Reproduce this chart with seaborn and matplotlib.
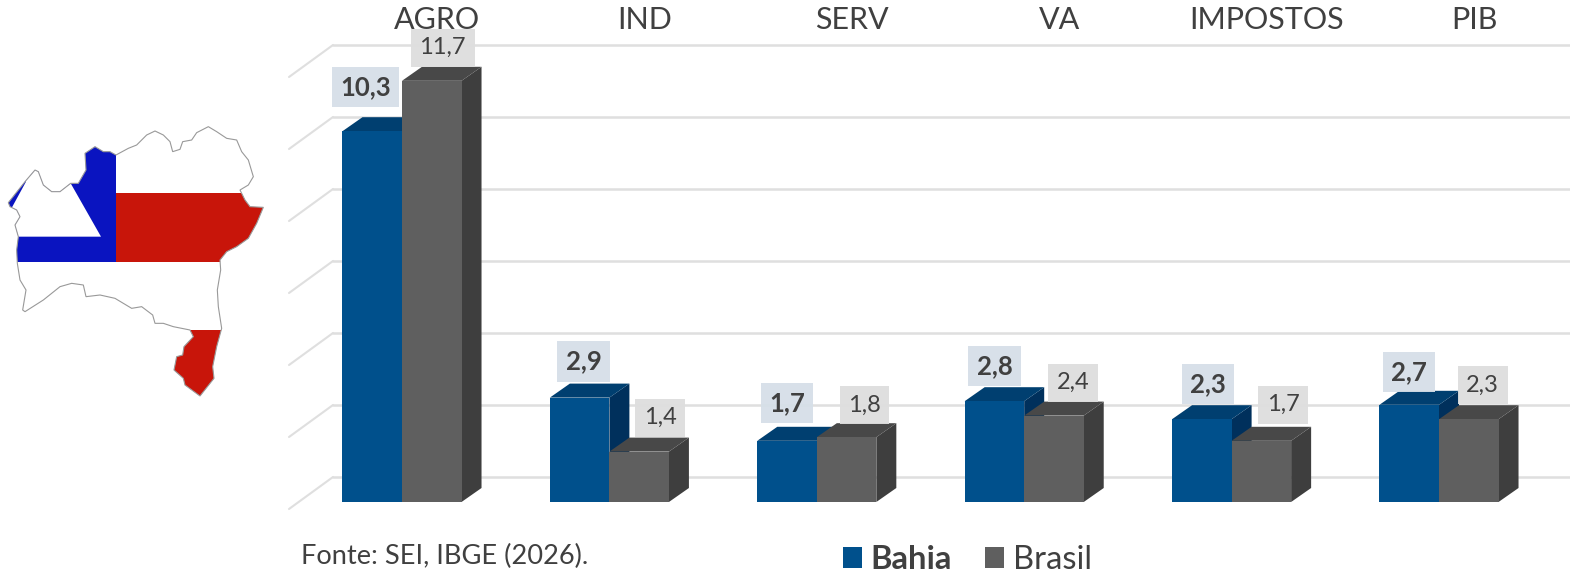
import pandas as pd
import seaborn as sns
import matplotlib.pyplot as plt
from matplotlib.patches import Polygon, Rectangle

# dados
setores = ['AGRO', 'IND', 'SERV', 'VA', 'IMPOSTOS', 'PIB']
bahia = [10.3, 2.9, 1.7, 2.8, 2.3, 2.7]
brasil = [11.7, 1.4, 1.8, 2.4, 1.7, 2.3]
grid_valores = [0, 2, 4, 6, 8, 10, 12]

# ajuste fino dos rotulos, em pixels (dx, altura acima da barra)
desloc_bahia = [(-7, 44), (4, 36), (0, 38), (0, 35), (6, 35), (0, 33)]
desloc_brasil = [(11, 33), (21, 34), (18, 32), (19, 33), (22, 36), (14, 34)]

# contorno do mapa, em coordenadas proprias
mapa_contorno = [
    (348, 135), (385, 115), (410, 105), (440, 75), (465, 63), (490, 75), (510, 95), (518, 125),
    (540, 118), (548, 95), (575, 90), (590, 68), (625, 50), (650, 65), (680, 85), (710, 90),
    (725, 125), (745, 150), (760, 200), (745, 225), (720, 240), (735, 270), (750, 290), (790, 292),
    (770, 340), (745, 385), (710, 410), (680, 425), (660, 450), (662, 480), (652, 540), (655, 590),
    (665, 655), (650, 710), (638, 770), (642, 805), (600, 858), (555, 825), (550, 805), (522, 780),
    (530, 740), (548, 735), (552, 710), (580, 680), (570, 660), (520, 650), (490, 640), (465, 640),
    (458, 615), (425, 590), (395, 595), (345, 565), (300, 555), (258, 560), (250, 525), (215, 520),
    (180, 530), (130, 570), (75, 605), (68, 600), (78, 540), (60, 510), (52, 460), (50, 420),
    (55, 380), (45, 345), (60, 320), (50, 300), (30, 290), (25, 278), (75, 215), (105, 180),
    (115, 185), (130, 225), (155, 245), (180, 245), (212, 220), (235, 220), (258, 180), (255, 130),
    (285, 110), (310, 125), (330, 125),
]

sns.set_theme(style='white')
plt.rcParams['font.family'] = ['Lato', 'DejaVu Sans']

AZUL, AZUL_TOPO, AZUL_LADO = '#00508C', '#003F70', '#00305C'
CINZA, CINZA_TOPO, CINZA_LADO = '#5F5F5F', '#484848', '#3E3E3E'
GRADE = '#DFDFDF'
TEXTO = '#404040'

W, H = 1570, 574
PX_CAT = 207.4   # pixels por categoria
PX_UN = 36.0     # pixels por unidade
X0, Y0 = 402, 502  # pixel do primeiro grupo e da base das barras


def dx(px):
    return px / PX_CAT


def dy(px):
    return px / PX_UN


df = pd.DataFrame({
    'setor': setores * 2,
    'valor': bahia + brasil,
    'regiao': ['Bahia'] * len(setores) + ['Brasil'] * len(setores),
})

fig = plt.figure(figsize=(W / 100, H / 100), dpi=100)
ax = fig.add_axes([0, 0, 1, 1])
sns.barplot(data=df, x='setor', y='valor', hue='regiao', palette=[AZUL, CINZA],
            width=0.574, gap=0, saturation=1, linewidth=0, ax=ax, zorder=5)
ax.set_xlim(dx(-X0), dx(W - X0))
ax.set_ylim(dy(Y0 - H), dy(Y0))
ax.axis('off')

# grade: parede do fundo e diagonal lateral
for v in grid_valores:
    yf = dy(-7) + v
    yb = dy(25) + v
    ax.plot([dx(289 - X0), dx(333 - X0)], [yf, yb], color=GRADE, lw=1.5, zorder=1, solid_capstyle='round')
    ax.plot([dx(333 - X0), dx(W - X0)], [yb, yb], color=GRADE, lw=1.8, zorder=1)

# faces 3D a partir das barras desenhadas
prof_x, prof_y = dx(20), dy(14)
cores = [(AZUL_TOPO, AZUL_LADO), (CINZA_TOPO, CINZA_LADO)]
for k, cont in enumerate(ax.containers):
    topo_c, lado_c = cores[k]
    for b in cont:
        x0, x1 = b.get_x(), b.get_x() + b.get_width()
        h = b.get_height()
        b.set_zorder(5 + k * 3 + 2)
        b.set_edgecolor('none')
        ax.add_patch(Polygon([(x1, 0), (x1 + prof_x, prof_y), (x1 + prof_x, h + prof_y), (x1, h)],
                             color=lado_c, lw=0, zorder=5 + k * 3))
        ax.add_patch(Polygon([(x0, h), (x0 + prof_x, h + prof_y), (x1 + prof_x, h + prof_y), (x1, h)],
                             color=topo_c, lw=0, zorder=5 + k * 3 + 1))

# rotulos de dados
for k, (cont, desloc) in enumerate(zip(ax.containers, [desloc_bahia, desloc_brasil])):
    for b, (ox, oy) in zip(cont, desloc):
        txt = f'{b.get_height():.1f}'.replace('.', ',')
        ax.text(b.get_x() + b.get_width() / 2 + dx(ox), b.get_height() + dy(oy), txt,
                ha='center', va='center', fontsize=18.5 if k == 0 else 17,
                fontweight='bold' if k == 0 else 'normal', color=TEXTO, zorder=12,
                bbox=dict(boxstyle='square,pad=0.32' if k == 0 else 'square,pad=0.36',
                          fc='#D6DFE8' if k == 0 else '#DEDEDE', ec='none', alpha=0.95))

# nomes das categorias no topo
for i, s in enumerate(setores):
    ax.text(i + dx(35), dy(Y0 - 20), s, ha='center', va='center', fontsize=22, color=TEXTO, zorder=12)

# a fonte fica logo acima da borda inferior para nao ser cortada
ax.text(dx(301 - X0), dy(Y0 - 556), 'Fonte: SEI, IBGE (2026).', ha='left', va='center',
        fontsize=19.6, color=TEXTO)

# legenda
sns.move_legend(ax, 'center left', bbox_to_anchor=(843 / W, 1 - 560 / H), ncol=2, frameon=False,
                title=None, fontsize=23.6, handlelength=0.58, handleheight=0.58,
                handletextpad=0.27, columnspacing=1.0, borderpad=0, borderaxespad=0)
leg_textos = ax.get_legend().get_texts()
leg_textos[0].set_fontweight('bold')
for t in leg_textos:
    t.set_color(TEXTO)

# mapa da Bahia com a bandeira
ax_mapa = fig.add_axes([0, 1 - 410 / H, 280 / W, 300 / H])
ax_mapa.set_xlim(0, 840)
ax_mapa.set_ylim(900, 0)
ax_mapa.axis('off')
contorno = Polygon(mapa_contorno, closed=True, ec='#999999', lw=0.8, zorder=5, fill=False)
ax_mapa.add_patch(contorno)
clip = Polygon(mapa_contorno, closed=True, transform=ax_mapa.transData)
partes = [
    Rectangle((0, 0), 348, 455, color='#0A14C0', lw=0),
    Polygon([(212, 150), (212, 220), (303, 380), (0, 380), (0, 300), (36, 292), (78, 215), (78, 150)],
            color='white', lw=0),
    Rectangle((348, 250), 500, 205, color='#C8150A', lw=0),
    Rectangle((348, 660), 500, 240, color='#C8150A', lw=0),
]
for p in partes:
    ax_mapa.add_patch(p)
    p.set_clip_path(clip)

fig.savefig('out.png', dpi=100)
